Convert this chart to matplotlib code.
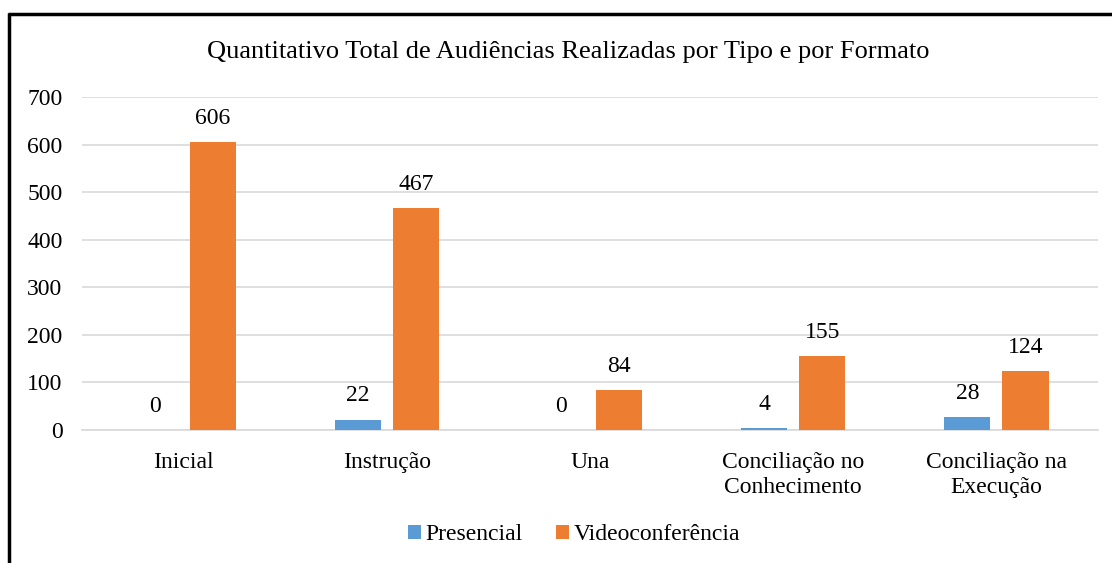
import matplotlib
matplotlib.use("Agg")
import matplotlib.pyplot as plt
import numpy as np
from matplotlib.lines import Line2D
from matplotlib.patches import Patch

categories = ["Inicial", "Instrução", "Una", "Conciliação no\nConhecimento", "Conciliação na\nExecução"]
presencial = [0, 22, 0, 4, 28]
videoconf = [606, 467, 84, 155, 124]
series_names = ["Presencial", "Videoconferência"]
title = "Quantitativo Total de Audiências Realizadas por Tipo e por Formato"
yticks = [0, 100, 200, 300, 400, 500, 600, 700]

plt.rcParams['font.family'] = ['Liberation Serif', 'DejaVu Serif']
blue = "#5B9BD5"
orange = "#ED7D31"
fs = 17

fig = plt.figure(figsize=(11.12, 5.63), dpi=100)
ax = fig.add_axes([82/1112, 1-430/563, 1016/1112, 333/563])

x = np.arange(len(categories))
w = 0.227
off = 0.143
b1 = ax.bar(x - off, presencial, w, color=blue, label=series_names[0], zorder=3)
b2 = ax.bar(x + off, videoconf, w, color=orange, label=series_names[1], zorder=3)

for bars, vals in ((b1, presencial), (b2, videoconf)):
    for r, v in zip(bars, vals):
        ax.annotate(str(v), (r.get_x() + r.get_width()/2, v), xytext=(0, 17),
                    textcoords="offset points", ha="center", va="center", fontsize=fs)

ax.set_xlim(-0.5, len(categories) - 0.5)
ax.set_ylim(0, 700)
ax.set_yticks(yticks)
ax.set_xticks(x)
ax.set_xticklabels(categories, fontsize=fs, linespacing=1.25)
ax.tick_params(axis='y', length=0, pad=14, labelsize=fs)
ax.tick_params(axis='x', length=0, pad=16)
ax.grid(axis='y', color='#D9D9D9', linewidth=1.2, zorder=0)
for s in ['top', 'right', 'left']:
    ax.spines[s].set_visible(False)
ax.spines['bottom'].set_color('#D9D9D9')
ax.spines['bottom'].set_linewidth(1.2)

fig.text(568/1112, 1-52/563, title, ha='center', va='center', fontsize=19)

handles = [Patch(facecolor=blue), Patch(facecolor=orange)]
fig.legend(handles, series_names, loc='center', bbox_to_anchor=(574/1112, 1-535/563),
           ncol=2, frameon=False, fontsize=fs, handlelength=0.55, handleheight=0.55,
           handletextpad=0.2, columnspacing=1.4)

# outer frame (top and left edges visible)
fig.add_artist(Line2D([8/1112, 1.0], [1-14/563, 1-14/563], color='black', linewidth=2.5,
                      solid_capstyle='butt', transform=fig.transFigure))
fig.add_artist(Line2D([9/1112, 9/1112], [0, 1-13/563], color='black', linewidth=2.5,
                      solid_capstyle='butt', transform=fig.transFigure))

fig.savefig("out.png", dpi=100)
